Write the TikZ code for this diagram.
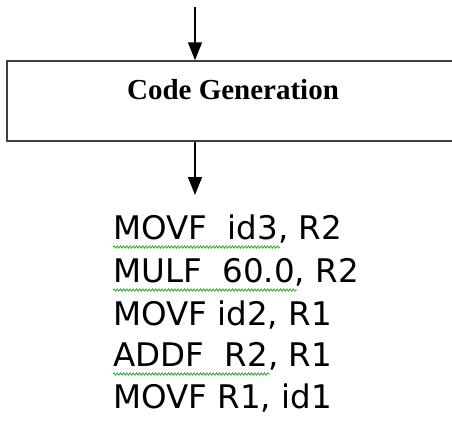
\documentclass[tikz,border=0pt]{standalone}
\usepackage{fontspec}
\setmainfont{Liberation Serif}
\newfontfamily\codefont{DejaVu Sans}
\usetikzlibrary{arrows.meta,decorations.pathmorphing}

\tikzset{
  flowline/.style={line width=1.5pt, black,
    -{Triangle[length=18pt,width=14pt]}},
  stagebox/.style={draw=black!75, line width=1.5pt, rectangle,
    minimum width=458pt, minimum height=80pt, inner sep=0pt},
  stagetext/.style={font=\fontsize{29}{34}\selectfont\bfseries, inner sep=0pt},
  codeline/.style={font=\codefont\fontsize{32.5}{38}\selectfont,
    anchor=base west, inner sep=0pt},
  squiggle/.style={draw=green!60!black!85, line width=0.8pt,
    decorate, decoration={snake, amplitude=1.1pt, segment length=3.2pt}}
}

\begin{document}
\begin{tikzpicture}[x=1pt,y=-1pt]
  \clip (0,0) rectangle (452,421);
  \fill[white] (0,0) rectangle (452,421);

  % stage box (runs off the right edge)
  \node[stagebox] (cg) at (236,101) {};
  \node[stagetext] (cgtext) at (233,90) {Code Generation};

  % incoming and outgoing flow
  \coordinate (in) at (195,7);
  \coordinate (out) at (195,195);
  \draw[flowline] (in) -- (in |- cg.north);
  \draw[flowline] (out |- cg.south) -- (out);

  % generated target code
  \node[codeline] (l1) at (113,239) {MOVF\ \ id3, R2};
  \node[codeline] (l2) at (113,282) {MULF\ \ 60.0, R2};
  \node[codeline] (l3) at (113,325) {MOVF id2, R1};
  \node[codeline] (l4) at (113,366) {ADDF\ \ R2, R1};
  \node[codeline] (l5) at (113,408) {MOVF R1, id1};

  % grammar-check underlines
  \path[squiggle] ([yshift=-8pt]l1.base west) -- ++(167,0);
  \path[squiggle] ([yshift=-8pt]l2.base west) -- ++(184,0);
  \path[squiggle] ([yshift=-8pt]l4.base west) -- ++(157,0);
\end{tikzpicture}
\end{document}
